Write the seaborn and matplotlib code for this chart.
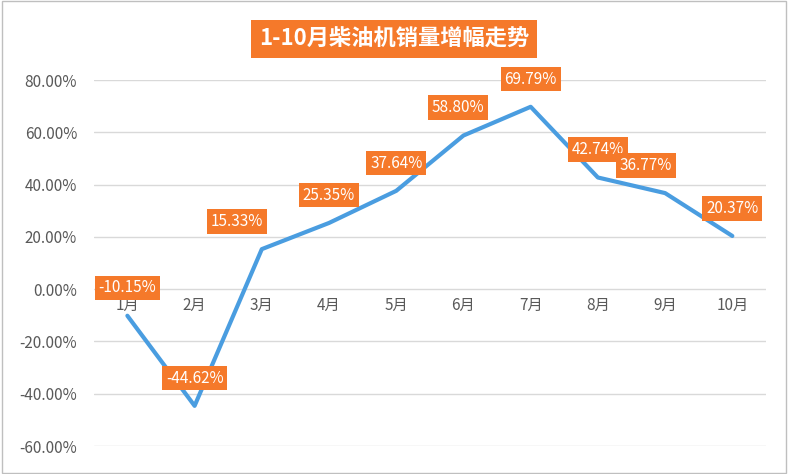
import matplotlib
matplotlib.use('Agg')
import matplotlib.pyplot as plt
import seaborn as sns
import pandas as pd
from matplotlib.patches import Rectangle

sns.set_style('white')
plt.rcParams['font.family'] = ['Noto Sans CJK SC', 'DejaVu Sans']

months = ['1月', '2月', '3月', '4月', '5月', '6月', '7月', '8月', '9月', '10月']
growth = [-10.15, -44.62, 15.33, 25.35, 37.64, 58.80, 69.79, 42.74, 36.77, 20.37]
label_dx = [0, 0, -18, 0, 0, -4, 0, 0, -14, 0]

orange = '#f5792a'
blue = '#4a9de0'

df = pd.DataFrame({'x': range(len(months)), 'y': growth})

fig = plt.figure(figsize=(7.88, 4.74), dpi=100)
ax = fig.add_axes([0.119, 0.059, 0.853, 0.772])
sns.lineplot(data=df, x='x', y='y', ax=ax, color=blue, linewidth=3)

ax.set_xlim(-0.5, 9.5)
ax.set_ylim(-60, 80)
ax.set_yticks(range(-60, 81, 20))
ax.set_yticklabels([f'{v:.2f}%' for v in range(-60, 81, 20)], color='#595959', fontsize=11)
ax.set_xticks([])
ax.set_xlabel('')
ax.set_ylabel('')
ax.yaxis.grid(True, color='#d9d9d9', linewidth=1)
ax.set_axisbelow(True)
for s in ax.spines.values():
    s.set_visible(False)
ax.tick_params(axis='y', length=0, pad=12)

for i, m in enumerate(months):
    ax.text(i, -3, m, ha='center', va='top', fontsize=11, color='#595959')

for i, v in enumerate(growth):
    ax.annotate(f'{v:.2f}%', (i, v), xytext=(label_dx[i], 20), textcoords='offset points',
                ha='center', va='center', color='white', fontsize=11,
                bbox=dict(boxstyle='square,pad=0.25', fc=orange, ec='none'))

fig.text(0.5, 0.918, '1-10月柴油机销量增幅走势', ha='center', va='center', color='white',
         fontsize=16, fontweight='bold',
         bbox=dict(boxstyle='square,pad=0.35', fc=orange, ec='none'))

fig.patches.append(Rectangle((0.002, 0.002), 0.996, 0.996, transform=fig.transFigure,
                             fill=False, ec='#bfbfbf', lw=1))

fig.savefig('out.png', dpi=100)
